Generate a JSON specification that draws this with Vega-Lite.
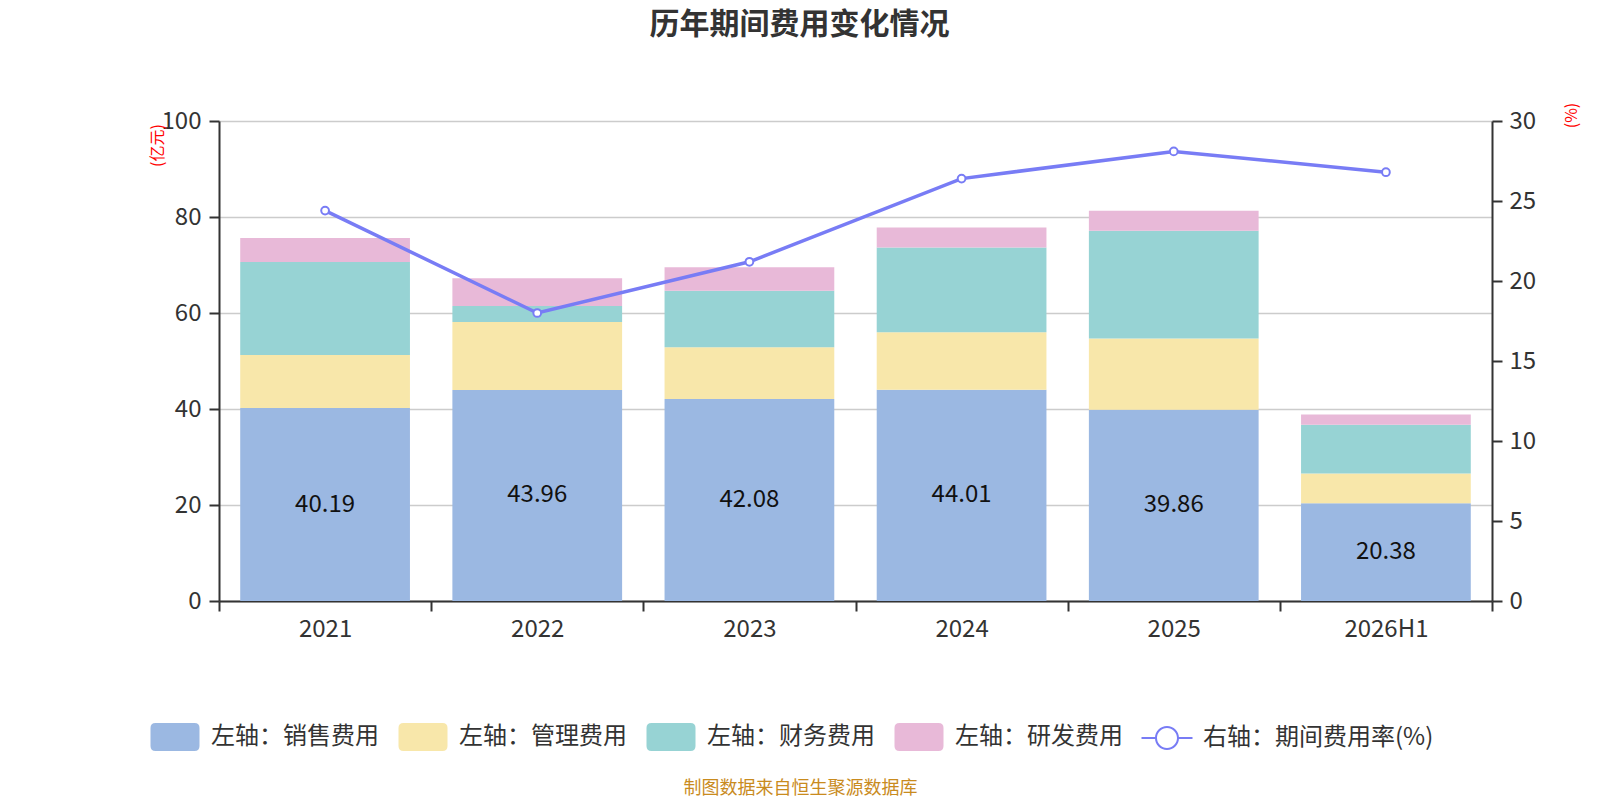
{
  "$schema": "https://vega.github.io/schema/vega-lite/v6.json",
  "width": 1273,
  "height": 480,
  "autosize": {"type": "none"},
  "padding": {"left": 219, "top": 121, "right": 108, "bottom": 199},
  "background": "white",
  "title": {
    "text": "历年期间费用变化情况",
    "font": "Noto Sans CJK SC",
    "fontSize": 30,
    "fontWeight": "bold",
    "color": "#333333",
    "anchor": "middle",
    "frame": "group",
    "dx": -56,
    "offset": 62
  },
  "config": {
    "view": {"stroke": null},
    "font": "Noto Sans CJK SC",
    "axis": {"labelFont": "Noto Sans CJK SC", "titleFont": "Noto Sans CJK SC"}
  },
  "datasets": {
    "bars": [
      {"year": "2021", "type": "左轴：销售费用", "value": 40.19},
      {"year": "2021", "type": "左轴：管理费用", "value": 11.06},
      {"year": "2021", "type": "左轴：财务费用", "value": 19.37},
      {"year": "2021", "type": "左轴：研发费用", "value": 5.0},
      {"year": "2022", "type": "左轴：销售费用", "value": 43.96},
      {"year": "2022", "type": "左轴：管理费用", "value": 14.15},
      {"year": "2022", "type": "左轴：财务费用", "value": 3.35},
      {"year": "2022", "type": "左轴：研发费用", "value": 5.8},
      {"year": "2023", "type": "左轴：销售费用", "value": 42.08},
      {"year": "2023", "type": "左轴：管理费用", "value": 10.8},
      {"year": "2023", "type": "左轴：财务费用", "value": 11.75},
      {"year": "2023", "type": "左轴：研发费用", "value": 4.9},
      {"year": "2024", "type": "左轴：销售费用", "value": 44.01},
      {"year": "2024", "type": "左轴：管理费用", "value": 12.0},
      {"year": "2024", "type": "左轴：财务费用", "value": 17.66},
      {"year": "2024", "type": "左轴：研发费用", "value": 4.15},
      {"year": "2025", "type": "左轴：销售费用", "value": 39.86},
      {"year": "2025", "type": "左轴：管理费用", "value": 14.85},
      {"year": "2025", "type": "左轴：财务费用", "value": 22.4},
      {"year": "2025", "type": "左轴：研发费用", "value": 4.2},
      {"year": "2026H1", "type": "左轴：销售费用", "value": 20.38},
      {"year": "2026H1", "type": "左轴：管理费用", "value": 6.2},
      {"year": "2026H1", "type": "左轴：财务费用", "value": 10.15},
      {"year": "2026H1", "type": "左轴：研发费用", "value": 2.15}
    ],
    "rate": [
      {"year": "2021", "rate": 24.4},
      {"year": "2022", "rate": 18.0},
      {"year": "2023", "rate": 21.2},
      {"year": "2024", "rate": 26.4},
      {"year": "2025", "rate": 28.1},
      {"year": "2026H1", "rate": 26.8}
    ]
  },
  "encoding": {
    "x": {
      "field": "year",
      "type": "nominal",
      "scale": {"domain": ["2021", "2022", "2023", "2024", "2025", "2026H1"], "paddingInner": 0, "paddingOuter": 0},
      "axis": {
        "title": "制图数据来自恒生聚源数据库",
        "titleColor": "#c98b1e",
        "titleFontSize": 18,
        "titleFontWeight": "normal",
        "titleX": 581,
        "titleY": 187,
        "titleAlign": "center",
        "titleBaseline": "middle",
        "labelAngle": 0,
        "labelFontSize": 24,
        "labelColor": "#333333",
        "labelPadding": 6,
        "tickBand": "extent",
        "tickSize": 10,
        "tickWidth": 2,
        "tickColor": "#333333",
        "domainColor": "#333333",
        "domainWidth": 2,
        "grid": false
      }
    }
  },
  "layer": [
    {
      "data": {"name": "bars"},
      "transform": [{"window": [{"op": "row_number", "as": "rn"}]}],
      "mark": {"type": "bar", "width": {"band": 0.8}},
      "encoding": {
        "y": {
          "field": "value",
          "type": "quantitative",
          "stack": "zero",
          "scale": {"domain": [0, 100], "nice": false},
          "axis": {
            "title": "(亿元)",
            "titleAngle": 270,
            "titleColor": "red",
            "titleFontSize": 16,
            "titleFontWeight": "normal",
            "titleX": -62,
            "titleY": 24,
            "titleAlign": "center",
            "titleBaseline": "middle",
            "values": [0, 20, 40, 60, 80, 100],
            "labelFontSize": 24,
            "labelColor": "#333333",
            "labelPadding": 8,
            "tickSize": 10,
            "tickWidth": 2,
            "tickColor": "#333333",
            "domainColor": "#333333",
            "domainWidth": 2,
            "grid": true,
            "gridColor": "#cccccc",
            "gridWidth": 1.5
          }
        },
        "color": {
          "field": "type",
          "type": "nominal",
          "scale": {
            "domain": ["左轴：销售费用", "左轴：管理费用", "左轴：财务费用", "左轴：研发费用", "右轴：期间费用率(%)"],
            "range": ["#9bb8e2", "#f8e7aa", "#97d3d4", "#e8b9d8", "#787cf5"]
          },
          "legend": {
            "orient": "none",
            "legendX": -70,
            "legendY": 590,
            "direction": "horizontal",
            "columns": 5,
            "title": null,
            "padding": 0,
            "labelFont": "Noto Sans CJK SC",
            "labelFontSize": 24,
            "labelColor": "#333333",
            "labelOffset": 10,
            "labelLimit": 400,
            "columnPadding": 18,
            "symbolSize": 2500,
            "encode": {
              "symbols": {
                "update": {
                  "shape": [
                    {"test": "datum.value === '右轴：期间费用率(%)'", "value": "M-1.02,-0.04L-0.46,-0.04L-0.46,0.04L-1.02,0.04ZM0.46,-0.04L1.02,-0.04L1.02,0.04L0.46,0.04ZM-0.48,0A0.48,0.48 0 1 1 0.48,0A0.48,0.48 0 1 1 -0.48,0ZM-0.4,0A0.4,0.4 0 1 0 0.4,0A0.4,0.4 0 1 0 -0.4,0Z"},
                    {"value": "M-0.78,-0.56L0.78,-0.56Q0.98,-0.56 0.98,-0.36L0.98,0.36Q0.98,0.56 0.78,0.56L-0.78,0.56Q-0.98,0.56 -0.98,0.36L-0.98,-0.36Q-0.98,-0.56 -0.78,-0.56Z"}
                  ],
                  "opacity": {"value": 1}
                }
              }
            }
          }
        },
        "order": {"field": "rn", "type": "quantitative"}
      }
    },
    {
      "data": {"name": "rate"},
      "layer": [
        {
          "mark": {"type": "line", "strokeWidth": 3.5, "color": "#787cf5"},
          "encoding": {
            "y": {
              "field": "rate",
              "type": "quantitative",
              "scale": {"domain": [0, 30], "nice": false},
              "axis": {
                "orient": "right",
                "title": "(%)",
                "titleAngle": 270,
                "titleColor": "red",
                "titleFontSize": 16,
                "titleFontWeight": "normal",
                "titleX": 79,
                "titleY": -6,
                "titleAlign": "center",
                "titleBaseline": "middle",
                "values": [0, 5, 10, 15, 20, 25, 30],
                "labelFontSize": 24,
                "labelColor": "#333333",
                "labelPadding": 7,
                "tickSize": 10,
                "tickWidth": 2,
                "tickColor": "#333333",
                "domainColor": "#333333",
                "domainWidth": 2,
                "grid": false
              }
            }
          }
        },
        {
          "mark": {"type": "point", "filled": true, "fill": "#ffffff", "stroke": "#787cf5", "strokeWidth": 2, "size": 60, "opacity": 1},
          "encoding": {
            "y": {"field": "rate", "type": "quantitative"}
          }
        }
      ]
    },
    {
      "data": {"name": "bars"},
      "transform": [{"filter": "datum.type === '左轴：销售费用'"}],
      "mark": {"type": "text", "fontSize": 24, "color": "#111111", "baseline": "middle", "align": "center", "font": "Noto Sans CJK SC"},
      "encoding": {
        "y": {"field": "value", "type": "quantitative", "scale": {"domain": [0, 200], "nice": false}, "axis": null},
        "text": {"field": "value", "type": "quantitative", "format": ".2f"}
      }
    }
  ],
  "resolve": {"scale": {"y": "independent"}}
}
